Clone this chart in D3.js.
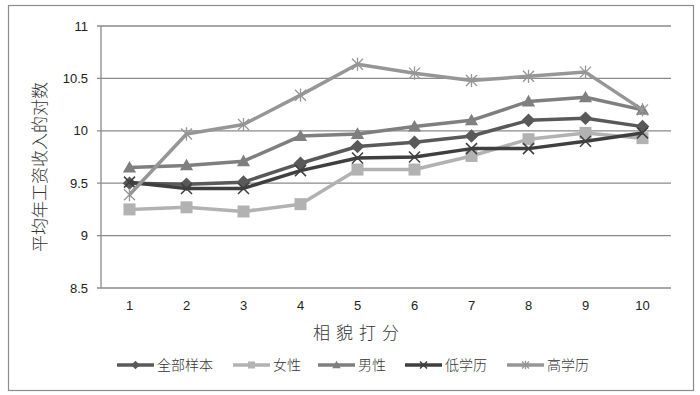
<!DOCTYPE html>
<html>
<head>
<meta charset="utf-8">
<script src="https://cdn.jsdelivr.net/npm/d3@7"></script>
<style>
    body { margin: 0; background: #fff; }
    svg { display: block; }
</style>
</head>
<body>
<div id="chart"></div>
<script>
// data
const scores = [1, 2, 3, 4, 5, 6, 7, 8, 9, 10];
const yTicks = [8.5, 9, 9.5, 10, 10.5, 11];

const allSample = [9.50, 9.49, 9.51, 9.69, 9.85, 9.89, 9.95, 10.10, 10.12, 10.04];
const female = [9.25, 9.27, 9.23, 9.30, 9.63, 9.63, 9.76, 9.92, 9.98, 9.93];
const male = [9.65, 9.67, 9.71, 9.95, 9.97, 10.04, 10.10, 10.28, 10.32, 10.20];
const lowEdu = [9.51, 9.45, 9.45, 9.62, 9.74, 9.75, 9.83, 9.83, 9.90, 9.98];
const highEdu = [9.39, 9.97, 10.06, 10.34, 10.635, 10.55, 10.48, 10.52, 10.56, 10.20];

const seriesNames = ["全部样本", "女性", "男性", "低学历", "高学历"];
const seriesValues = [allSample, female, male, lowEdu, highEdu];
const seriesColors = ["#595959", "#b2b2b2", "#7f7f7f", "#3f3f3f", "#969696"];
const seriesMarkers = ["diamond", "square", "triangle", "cross", "star"];

const W = 700, H = 395;
const margin = {top: 26, right: 29, bottom: 107, left: 101};
const width = W - margin.left - margin.right;
const height = H - margin.top - margin.bottom;

const svg = d3.select("#chart").append("svg")
    .attr("width", W)
    .attr("height", H);

// outer frame
svg.append("rect")
    .attr("x", 8.5).attr("y", 5.5)
    .attr("width", 685).attr("height", 385)
    .attr("fill", "#fff")
    .attr("stroke", "#8c8c8c")
    .attr("stroke-width", 1.2);

const g = svg.append("g")
    .attr("transform", `translate(${margin.left}, ${margin.top})`);

const x = d3.scaleBand()
    .domain(scores)
    .range([0, width]);

const y = d3.scaleLinear()
    .domain([8.5, 11])
    .range([height, 0]);

// gridlines
g.append("g")
    .selectAll("line")
    .data(yTicks)
    .enter().append("line")
    .attr("x1", -4)
    .attr("x2", width)
    .attr("y1", d => y(d))
    .attr("y2", d => y(d))
    .attr("stroke", "#8a8a8a")
    .attr("stroke-width", 1.3);

// y axis line
g.append("line")
    .attr("x1", 0).attr("x2", 0)
    .attr("y1", 0).attr("y2", height)
    .attr("stroke", "#8a8a8a")
    .attr("stroke-width", 1.3);

// y tick labels
g.append("g")
    .selectAll("text")
    .data(yTicks)
    .enter().append("text")
    .attr("x", -13)
    .attr("y", d => y(d))
    .attr("dy", "0.35em")
    .attr("text-anchor", "end")
    .attr("font-family", "Liberation Sans, Arial, sans-serif")
    .attr("font-size", "13px")
    .attr("fill", "#222")
    .text(d => d);

// x tick labels
g.append("g")
    .selectAll("text")
    .data(scores)
    .enter().append("text")
    .attr("x", d => x(d) + x.bandwidth() / 2)
    .attr("y", height + 17)
    .attr("dy", "0.35em")
    .attr("text-anchor", "middle")
    .attr("font-family", "Liberation Sans, Arial, sans-serif")
    .attr("font-size", "13px")
    .attr("fill", "#222")
    .text(d => d);

// axis titles
svg.append("text")
    .attr("transform", "translate(40, 167) rotate(-90)")
    .attr("text-anchor", "middle")
    .attr("dy", "0.35em")
    .attr("font-family", "Noto Sans CJK SC, sans-serif")
    .attr("font-size", "17px")
    .attr("font-weight", 300)
    .attr("fill", "#333")
    .text("平均年工资收入的对数");

svg.append("text")
    .attr("x", 313)
    .attr("y", 333)
    .attr("dy", "0.35em")
    .attr("text-anchor", "start")
    .attr("letter-spacing", "6px")
    .attr("font-family", "Noto Sans CJK SC, sans-serif")
    .attr("font-size", "17px")
    .attr("font-weight", 300)
    .attr("fill", "#333")
    .text("相貌打分");

// marker drawing
function drawMarker(sel, type, color, size) {
    let s = size;
    if (type === "diamond") {
        sel.append("path")
            .attr("d", `M0,${-s * 0.62}L${s * 0.62},0L0,${s * 0.62}L${-s * 0.62},0Z`)
            .attr("fill", color);
    } else if (type === "square") {
        sel.append("rect")
            .attr("x", -s / 2).attr("y", -s / 2)
            .attr("width", s).attr("height", s)
            .attr("fill", color);
    } else if (type === "triangle") {
        sel.append("path")
            .attr("d", `M0,${-s * 0.6}L${s * 0.6},${s * 0.45}L${-s * 0.6},${s * 0.45}Z`)
            .attr("fill", color);
    } else if (type === "cross") {
        sel.append("path")
            .attr("d", `M${-s / 2},${-s / 2}L${s / 2},${s / 2}M${s / 2},${-s / 2}L${-s / 2},${s / 2}`)
            .attr("stroke", color)
            .attr("stroke-width", 1.5);
    } else if (type === "star") {
        sel.append("path")
            .attr("d", `M${-s / 2},${-s / 2}L${s / 2},${s / 2}M${s / 2},${-s / 2}L${-s / 2},${s / 2}M0,${-s * 0.6}L0,${s * 0.6}`)
            .attr("stroke", color)
            .attr("stroke-width", 1.3);
    }
}

const line = d3.line()
    .x((d, i) => x(scores[i]) + x.bandwidth() / 2)
    .y(d => y(d));

seriesValues.forEach((vals, k) => {
    let sg = g.append("g").attr("class", "series");
    sg.append("path")
        .datum(vals)
        .attr("d", line)
        .attr("fill", "none")
        .attr("stroke", seriesColors[k])
        .attr("stroke-width", 3.5)
        .attr("stroke-linejoin", "round");

    vals.forEach((v, i) => {
        let m = sg.append("g")
            .attr("transform", `translate(${x(scores[i]) + x.bandwidth() / 2}, ${y(v)})`);
        drawMarker(m, seriesMarkers[k], seriesColors[k], seriesMarkers[k] === "square" ? 12 : 11);
    });
});

// legend
const legendX = [117, 233, 318, 405, 507];
const legend = svg.append("g").attr("class", "legend");
seriesNames.forEach((name, k) => {
    let lg = legend.append("g").attr("transform", `translate(${legendX[k]}, 365)`);
    lg.append("line")
        .attr("x1", 0).attr("x2", 37)
        .attr("y1", 0).attr("y2", 0)
        .attr("stroke", seriesColors[k])
        .attr("stroke-width", 3.5);
    let m = lg.append("g").attr("transform", "translate(18.5, 0)");
    drawMarker(m, seriesMarkers[k], seriesColors[k], 7);
    lg.append("text")
        .attr("x", 40)
        .attr("y", 0)
        .attr("dy", "0.35em")
        .attr("font-family", "Noto Sans CJK SC, sans-serif")
        .attr("font-size", "14px")
        .attr("font-weight", 300)
        .attr("fill", "#333")
        .text(name);
});
</script>
</body>
</html>
